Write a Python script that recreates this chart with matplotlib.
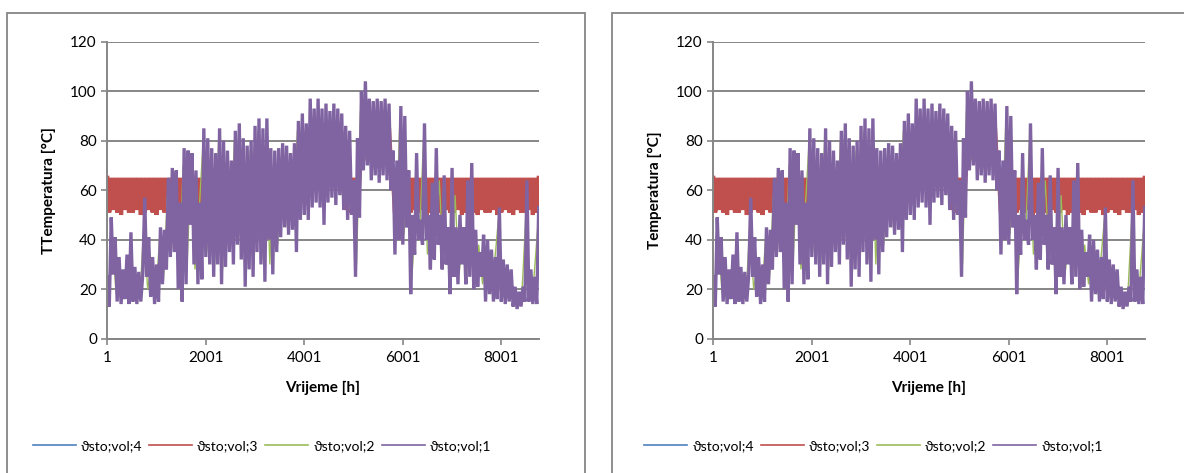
import matplotlib
matplotlib.use("Agg")
import matplotlib.pyplot as plt
from matplotlib.patches import Rectangle
from matplotlib.lines import Line2D

plt.rcParams['font.family'] = ['Lato', 'DejaVu Sans']

# ---------------- data ----------------
hours_vol1 = list(range(1, 8761, 40)) + [8760]
vol1 = [
    25, 13, 49, 26, 41, 15, 33, 14, 28, 16, 34, 14, 43, 15, 29, 14, 27, 15, 26, 57,
    25, 41, 17, 33, 14, 30, 15, 45, 22, 44, 28, 65, 33, 69, 35, 68, 20, 55, 15, 77,
    22, 76, 46, 75, 30, 68, 22, 55, 24, 85, 33, 81, 30, 77, 25, 75, 30, 85, 22, 80,
    29, 76, 35, 72, 30, 84, 38, 87, 32, 81, 21, 78, 28, 80, 25, 86, 35, 89, 30, 85,
    23, 89, 40, 77, 26, 76, 35, 77, 41, 79, 45, 78, 42, 75, 44, 79, 35, 88, 48, 91,
    50, 87, 48, 97, 53, 93, 55, 97, 53, 93, 46, 95, 55, 92, 57, 95, 54, 93, 58, 91,
    52, 86, 48, 84, 50, 64, 25, 81, 49, 100, 68, 104, 70, 97, 64, 96, 66, 97, 63, 96,
    66, 97, 64, 95, 60, 76, 34, 72, 40, 94, 38, 90, 45, 68, 18, 50, 34, 75, 40, 48,
    38, 87, 40, 50, 28, 63, 32, 77, 38, 50, 28, 66, 30, 45, 18, 69, 25, 45, 22, 50,
    30, 45, 22, 64, 25, 71, 20, 44, 21, 35, 25, 42, 15, 40, 18, 36, 15, 33, 16, 53,
    15, 32, 14, 30, 15, 28, 13, 21, 12, 19, 13, 21, 15, 64, 15, 28, 14, 25, 14, 53,
]

hours_vol3 = list(range(1, 8761, 40)) + [8760]
vol3 = [
    65, 51, 65, 52, 65, 51, 65, 50, 65, 52, 65, 51, 65, 51, 65, 52, 65, 50, 65, 51,
    65, 52, 65, 51, 65, 50, 65, 52, 65, 51, 65, 51, 65, 52, 65, 50, 65, 51, 65, 52,
    65, 51, 65, 50, 65, 52, 65, 51, 65, 51, 65, 52, 65, 50, 65, 51, 65, 52, 65, 51,
    65, 50, 65, 52, 65, 51, 65, 51, 65, 52, 65, 50, 65, 51, 65, 52, 65, 51, 65, 50,
    65, 52, 65, 51, 65, 51, 65, 52, 65, 50, 65, 51, 65, 52, 65, 51, 65, 60, 75, 62,
    78, 64, 80, 62, 82, 65, 80, 63, 84, 64, 80, 62, 82, 65, 80, 63, 84, 64, 80, 62,
    65, 52, 65, 51, 65, 52, 65, 51, 65, 75, 72, 90, 75, 88, 72, 86, 74, 88, 73, 85,
    74, 88, 72, 85, 70, 65, 51, 65, 52, 65, 51, 65, 50, 65, 51, 65, 52, 65, 51, 65,
    52, 65, 50, 65, 51, 65, 52, 65, 51, 65, 50, 65, 52, 65, 51, 65, 51, 65, 52, 65,
    50, 65, 51, 65, 52, 65, 51, 65, 50, 65, 52, 65, 51, 65, 51, 65, 52, 65, 50, 65,
    51, 65, 52, 65, 51, 65, 50, 65, 52, 65, 51, 65, 51, 65, 52, 65, 50, 65, 51, 65,
]

hours_vol2 = list(range(21, 8761, 80))
vol2 = [
    20, 40, 18, 28, 16, 32, 17, 26, 16, 45,
    20, 30, 16, 40, 24, 58, 35, 62, 20, 70,
    30, 70, 28, 50, 78, 35, 72, 30, 80, 28,
    70, 36, 80, 38, 75, 25, 76, 30, 84, 32,
    82, 30, 72, 38, 74, 45, 72, 46, 84, 52,
    84, 55, 90, 58, 88, 56, 88, 60, 88, 58,
    80, 52, 58, 30, 92, 72, 92, 68, 90, 67,
    90, 66, 70, 40, 88, 42, 62, 24, 48, 42,
    80, 34, 45, 40, 64, 32, 44, 28, 58, 26,
    40, 26, 60, 24, 38, 22, 36, 18, 30, 48,
    17, 28, 16, 19, 13, 19, 50, 17, 24, 45,
]

hours_vol4 = list(range(61, 8761, 120))
vol4 = [
    58, 62, 56, 60, 57, 63, 55, 61, 58, 60,
    57, 62, 56, 60, 58, 61, 57, 63, 56, 60,
    58, 62, 57, 60, 56, 61, 58, 62, 57, 60,
    58, 61, 62, 70, 66, 72, 68, 74, 66, 70,
    62, 58, 60, 78, 82, 76, 80, 74, 70, 60,
    58, 62, 56, 60, 57, 61, 58, 62, 56, 60,
    57, 61, 58, 62, 56, 60, 58, 61, 57, 62,
    58, 60, 57,
]

series_names = ["ϑsto;vol;4", "ϑsto;vol;3", "ϑsto;vol;2", "ϑsto;vol;1"]
series_colors = ["#4F81BD", "#C0504D", "#9BBB59", "#8064A2"]
x_ticks = [1, 2001, 4001, 6001, 8001]
y_ticks = [0, 20, 40, 60, 80, 100, 120]
y_labels = ["TTemperatura [°C]", "Temperatura [°C]"]
x_label = "Vrijeme [h]"

# ---------------- figure ----------------
W, H = 1184, 473
fig = plt.figure(figsize=(W / 100, H / 100), dpi=100)
grey = "#868686"

# chart-area borders
for (x0, x1) in [(7, 585), (612, 1190)]:
    fig.patches.append(Rectangle((x0 / W, -0.1), (x1 - x0) / W, 1.1 - 12.7 / H,
                                 transform=fig.transFigure, fill=False,
                                 edgecolor=grey, linewidth=1.3, zorder=0))

data = [(hours_vol4, vol4), (hours_vol3, vol3), (hours_vol2, vol2), (hours_vol1, vol1)]
lws = [1.0, 3.0, 1.0, 2.4]

for k, (left_px, legend_cx) in enumerate([(107.3, 262), (713.3, 873.5)]):
    ax = fig.add_axes([left_px / W, 1 - 338.7 / H, 431.4 / W, 297 / H])
    for (hx, vy), c, lw, name in zip(data, series_colors, lws, series_names):
        ax.plot(hx, vy, color=c, linewidth=lw, label=name, solid_joinstyle='bevel')
    ax.set_xlim(1, 8760)
    ax.set_ylim(0, 120)
    ax.set_xticks(x_ticks)
    ax.set_xticklabels([str(t) for t in x_ticks])
    ax.set_yticks(y_ticks)
    ax.yaxis.grid(True, color=grey, linewidth=1.4)
    ax.set_axisbelow(True)
    for s in ["top", "right"]:
        ax.spines[s].set_visible(False)
    for s in ["left", "bottom"]:
        ax.spines[s].set_color(grey)
        ax.spines[s].set_linewidth(1.4)
    ax.tick_params(axis="both", colors=grey, labelcolor="black", labelsize=11,
                   length=4, width=1.2, direction="out")
    ax.tick_params(axis="x", pad=5)
    ax.set_xlabel(x_label, fontsize=11, fontweight="bold", labelpad=11)
    ax.set_ylabel(y_labels[k], fontsize=11, fontweight="bold", labelpad=10)

    handles = [Line2D([0], [0], color=c, linewidth=1.2) for c in series_colors]
    fig.legend(handles, series_names, loc="center",
               bbox_to_anchor=(legend_cx / W, 1 - 446 / H),
               ncol=4, frameon=False, fontsize=10, handlelength=3.1,
               handletextpad=0.35, columnspacing=0.5)

fig.savefig("out.png", dpi=100)
